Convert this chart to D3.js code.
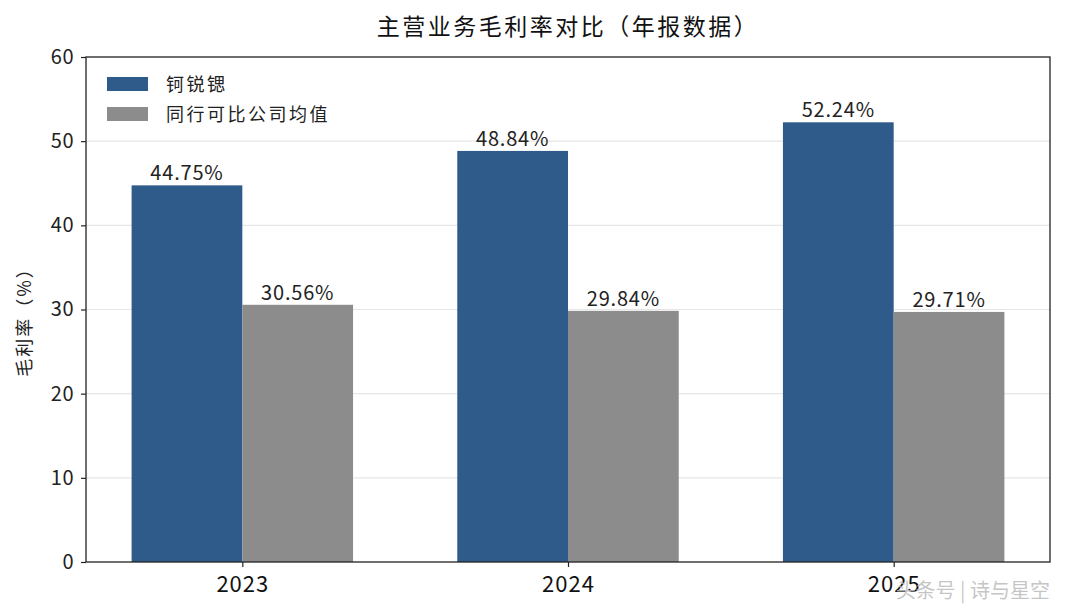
<!DOCTYPE html>
<html>
<head>
<meta charset="utf-8">
<script src="https://cdn.jsdelivr.net/npm/d3@7"></script>
<style>
  body { margin: 0; background: #fff; }
  text { font-family: "Noto Sans CJK SC", "Noto Sans", sans-serif; }
</style>
</head>
<body>
<div id="chart"></div>
<script>
const years = ["2023", "2024", "2025"];
const seriesNames = ["钶锐锶", "同行可比公司均值"];
const companyValues = [44.75, 48.84, 52.24];
const peerValues = [30.56, 29.84, 29.71];
const yTicks = [0, 10, 20, 30, 40, 50, 60];
const colors = ["#2e5b8a", "#8c8c8c"];

const width = 1065, height = 615;
const margin = { top: 57, right: 15, bottom: 53, left: 86 };
const plotW = width - margin.left - margin.right;
const plotH = height - margin.top - margin.bottom;

const svg = d3.select("#chart").append("svg")
    .attr("width", width)
    .attr("height", height)
    .style("background", "#fff");

// title
svg.append("text")
    .attr("x", margin.left + plotW / 2)
    .attr("y", 35)
    .attr("text-anchor", "middle")
    .attr("font-size", "23px")
    .attr("letter-spacing", "2.5px")
    .attr("fill", "#111")
    .text("主营业务毛利率对比（年报数据）");

const g = svg.append("g").attr("transform", `translate(${margin.left},${margin.top})`);

const barW = 0.34;
const x = d3.scaleLinear().domain([-0.48, 2.48]).range([0, plotW]);
const y = d3.scaleLinear().domain([0, 60]).range([plotH, 0]);

// grid
g.selectAll(".grid").data(yTicks.slice(1, -1)).enter().append("line")
    .attr("class", "grid")
    .attr("x1", 0).attr("x2", plotW)
    .attr("y1", d => y(d)).attr("y2", d => y(d))
    .attr("stroke", "#e6e6e6")
    .attr("stroke-width", 1.2);

const data = [];
years.forEach((yr, i) => {
    data.push({ i: i, s: 0, v: companyValues[i] });
    data.push({ i: i, s: 1, v: peerValues[i] });
});

g.selectAll(".bar").data(data).enter().append("rect")
    .attr("class", "bar")
    .attr("x", d => x(d.i + (d.s === 0 ? -barW : 0)))
    .attr("width", x(barW) - x(0))
    .attr("y", d => y(d.v))
    .attr("height", d => y(0) - y(d.v))
    .attr("fill", d => colors[d.s]);

g.selectAll(".val").data(data).enter().append("text")
    .attr("class", "val")
    .attr("x", d => x(d.i + (d.s === 0 ? -barW / 2 : barW / 2)))
    .attr("y", d => y(d.v) - 5)
    .attr("text-anchor", "middle")
    .attr("font-size", "20px")
    .attr("letter-spacing", "0.8px")
    .attr("fill", "#222")
    .text(d => d.v.toFixed(2) + "%");

// axes
const yAxis = g.append("g")
    .call(d3.axisLeft(y).tickValues(yTicks).tickSize(5).tickPadding(7));
yAxis.select(".domain").remove();
yAxis.selectAll("text").attr("font-size", "20px").attr("letter-spacing", "0.5px").attr("fill", "#222");
yAxis.selectAll("line").attr("stroke", "#222").attr("stroke-width", 1.2);

const xAxis = g.append("g")
    .attr("transform", `translate(0,${plotH})`)
    .call(d3.axisBottom(x).tickValues([0, 1, 2]).tickFormat(d => years[d]).tickSize(5).tickPadding(9));
xAxis.select(".domain").remove();
xAxis.selectAll("text").attr("font-size", "22px").attr("letter-spacing", "1px").attr("fill", "#111");
xAxis.selectAll("line").attr("stroke", "#222").attr("stroke-width", 1.2);

// frame
g.append("rect")
    .attr("x", 0).attr("y", 0)
    .attr("width", plotW).attr("height", plotH)
    .attr("fill", "none")
    .attr("stroke", "#222")
    .attr("stroke-width", 1.3);

// y label
svg.append("text")
    .attr("transform", `translate(31,${margin.top + plotH / 2 + 8}) rotate(-90)`)
    .attr("text-anchor", "middle")
    .attr("font-size", "18px")
    .attr("letter-spacing", "2px")
    .attr("fill", "#222")
    .text("毛利率（%）");

// legend
const legend = g.append("g").attr("transform", "translate(21,20)");
seriesNames.forEach((name, i) => {
    legend.append("rect")
        .attr("x", 0).attr("y", i * 30)
        .attr("width", 41).attr("height", 14)
        .attr("fill", colors[i]);
    legend.append("text")
        .attr("x", 59).attr("y", i * 30 + 14)
        .attr("font-size", "18px")
        .attr("letter-spacing", "2.5px")
        .attr("fill", "#222")
        .text(name);
});

// watermark
svg.append("text")
    .attr("x", 1050).attr("y", 598)
    .attr("text-anchor", "end")
    .attr("font-size", "20px")
    .attr("fill", "#bbb")
    .attr("fill-opacity", 0.85)
    .text("头条号 | 诗与星空");
</script>
</body>
</html>
